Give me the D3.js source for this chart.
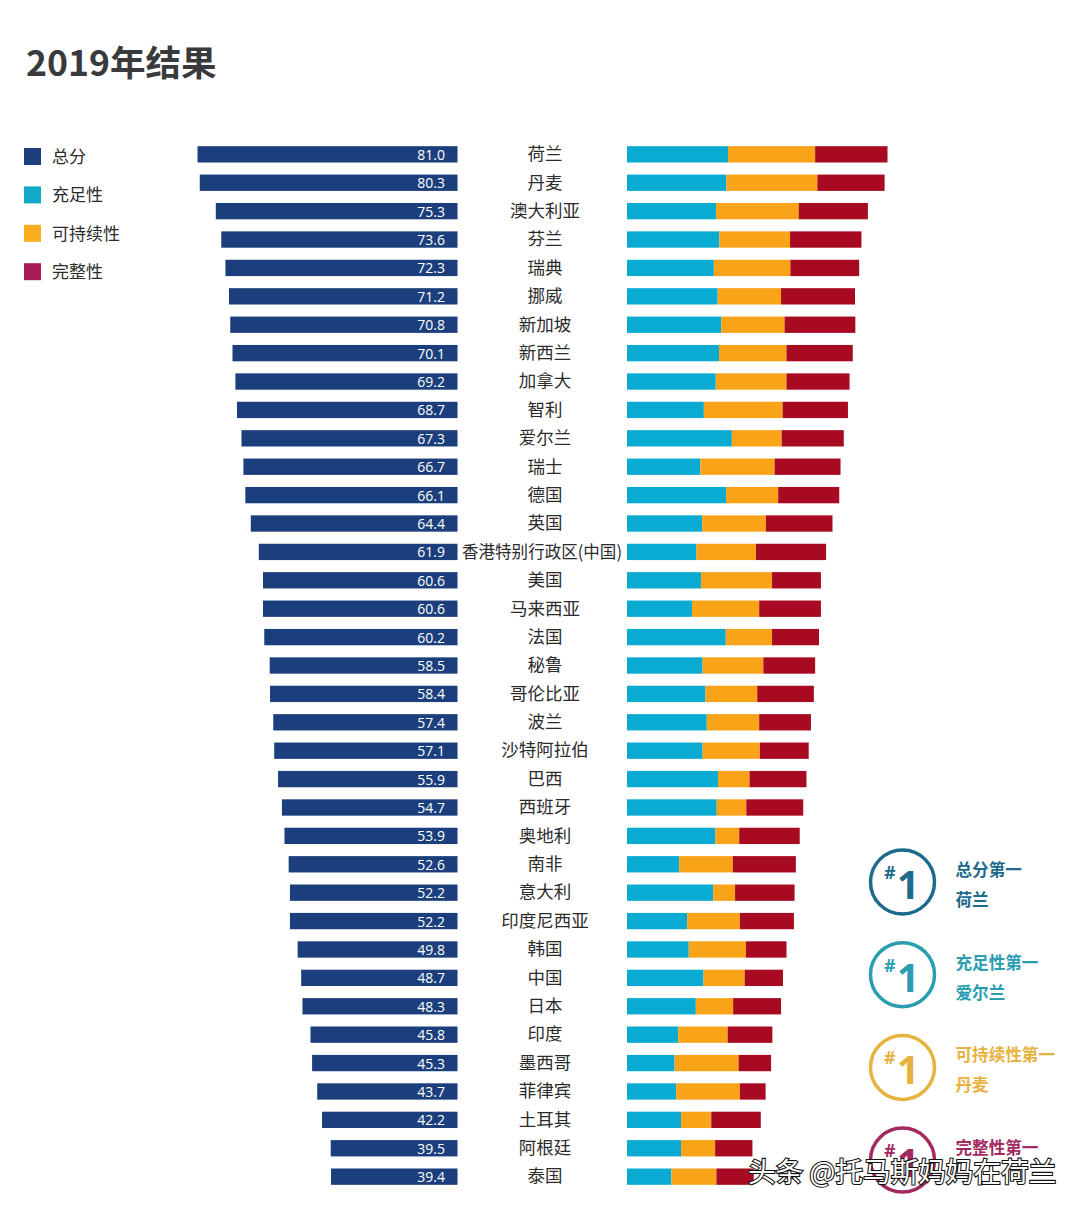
<!DOCTYPE html>
<meta charset="utf-8">
<style>
body { margin: 0; background: #fff; }
svg { display: block; }
text { font-family: "Noto Sans CJK SC", sans-serif; }
.num { font-family: "Open Sans", sans-serif; }
</style>
<body>
<svg id="chart" width="1080" height="1212"></svg>
<script src="https://cdnjs.cloudflare.com/ajax/libs/d3/7.8.5/d3.min.js"></script>
<script>

var countries = ["荷兰","丹麦","澳大利亚","芬兰","瑞典","挪威","新加坡","新西兰","加拿大","智利",
  "爱尔兰","瑞士","德国","英国","香港特别行政区(中国)","美国","马来西亚","法国","秘鲁","哥伦比亚",
  "波兰","沙特阿拉伯","巴西","西班牙","奥地利","南非","意大利","印度尼西亚","韩国","中国",
  "日本","印度","墨西哥","菲律宾","土耳其","阿根廷","泰国"];

var total = [81.0,80.3,75.3,73.6,72.3,71.2,70.8,70.1,69.2,68.7,
  67.3,66.7,66.1,64.4,61.9,60.6,60.6,60.2,58.5,58.4,
  57.4,57.1,55.9,54.7,53.9,52.6,52.2,52.2,49.8,48.7,
  48.3,45.8,45.3,43.7,42.2,39.5,39.4];

// weighted contribution of each sub index
var adequacy = [31.4,30.9,27.7,28.7,27.0,28.2,29.3,28.6,27.6,23.9,
  32.6,22.8,30.8,23.4,21.6,23.0,20.2,30.7,23.5,24.4,
  24.8,23.5,28.3,27.9,27.5,16.2,26.8,18.7,19.2,23.8,
  21.4,15.9,14.8,15.3,16.8,16.8,13.8];

var sustainability = [27.1,28.3,25.7,22.0,23.8,19.7,19.7,21.0,22.0,24.5,
  15.5,23.1,16.2,19.8,18.5,22.1,20.9,14.4,18.9,16.1,
  16.3,17.8,9.8,9.2,7.4,16.7,6.8,16.4,17.8,12.8,
  11.6,15.4,19.9,19.8,9.4,10.6,14.0];

var integrity = [22.5,20.9,21.5,22.2,21.4,23.0,22.0,20.6,19.6,20.3,
  19.3,20.5,19.0,20.7,21.8,15.2,19.2,14.6,16.1,17.6,
  16.1,15.2,17.7,17.7,18.8,19.6,18.5,16.8,12.6,11.9,
  14.9,13.9,10.1,8.0,15.4,11.6,11.6];

var legendLabels = ["总分","充足性","可持续性","完整性"];
var legendColors = ["#1b3f7c","#12a8c8","#f9ae1d","#a81b52"];
var stackColors = ["#0aabd3","#f9a318","#a80a22"];

var badgeLines = [["总分第一","荷兰"],["充足性第一","爱尔兰"],["可持续性第一","丹麦"],["完整性第一",""]];
var badgeColors = ["#1c6a8c","#2a9db0","#e8b23e","#a32a5f"];

var svg = d3.select("#chart");

svg.append("text")
  .attr("x", 26).attr("y", 75.5)
  .attr("font-size", 35.6).attr("font-weight", 700)
  .attr("fill", "#3a3a3c")
  .text("2019年结果");

var y = d3.scaleBand().domain(countries).range([140.5, 1190.5]).paddingInner(0.425).paddingOuter(0.2);
var xLeft = d3.scaleLinear().domain([0, 81]).range([457.5, 197.5]);
var xRight = d3.scaleLinear().domain([0, 81]).range([627, 887.5]);

// left: total score
var rows = countries.map(function(c, i) {
  return {name: c, total: total[i], parts: [adequacy[i], sustainability[i], integrity[i]]};
});

svg.append("g").selectAll("rect").data(rows).join("rect")
  .attr("x", function(d) { return xLeft(d.total); })
  .attr("y", function(d) { return y(d.name); })
  .attr("width", function(d) { return xLeft(0) - xLeft(d.total); })
  .attr("height", y.bandwidth())
  .attr("fill", legendColors[0]);

svg.append("g").selectAll("text").data(rows).join("text")
  .attr("class", "num")
  .attr("x", 445)
  .attr("y", function(d) { return y(d.name) + y.bandwidth() / 2 + 5.5; })
  .attr("text-anchor", "end")
  .attr("font-size", 14)
  .attr("fill", "#fff")
  .text(function(d) { return d.total.toFixed(1); });

// centre: names, the long Hong Kong label is squeezed to fit the gap
svg.append("g").selectAll("text").data(rows).join("text")
  .attr("x", function(d) { return d.name.length > 6 ? 542 : 545; })
  .attr("y", function(d) { return y(d.name) + y.bandwidth() / 2 + 5.8; })
  .attr("text-anchor", "middle")
  .attr("font-size", 17.5)
  .attr("fill", "#2b2b2b")
  .attr("textLength", function(d) { return d.name.length > 6 ? 160 : null; })
  .attr("lengthAdjust", "spacingAndGlyphs")
  .text(function(d) { return d.name; });

// right: stacked sub indices
var stackRows = svg.append("g").selectAll("g").data(rows).join("g");
stackRows.selectAll("rect")
  .data(function(d) {
    var sum = 0;
    return d.parts.map(function(v, k) {
      var seg = {name: d.name, x0: sum, x1: sum + v, k: k};
      sum += v;
      return seg;
    });
  })
  .join("rect")
  .attr("x", function(d) { return xRight(d.x0); })
  .attr("y", function(d) { return y(d.name); })
  .attr("width", function(d) { return xRight(d.x1) - xRight(d.x0); })
  .attr("height", y.bandwidth())
  .attr("fill", function(d) { return stackColors[d.k]; });

// legend
var legend = svg.append("g").selectAll("g").data(legendLabels).join("g")
  .attr("transform", function(d, i) { return "translate(24," + (148 + i * 38.4) + ")"; });
legend.append("rect")
  .attr("width", 17).attr("height", 17)
  .attr("fill", function(d, i) { return legendColors[i]; });
legend.append("text")
  .attr("x", 28).attr("y", 15)
  .attr("font-size", 17)
  .attr("fill", "#2b2b2b")
  .text(function(d) { return d; });

// number one badges
var badges = svg.append("g").selectAll("g").data(badgeLines).join("g")
  .attr("transform", function(d, i) { return "translate(902.5," + (882 + i * 92.7) + ")"; });
badges.append("circle")
  .attr("r", 32)
  .attr("fill", "#fff")
  .attr("stroke-width", 3.5)
  .attr("stroke", function(d, i) { return badgeColors[i]; });
badges.append("text")
  .attr("class", "num")
  .attr("x", -18.5).attr("y", -3)
  .attr("font-size", 18).attr("font-weight", 700)
  .attr("fill", function(d, i) { return badgeColors[i]; })
  .text("#");
badges.append("text")
  .attr("class", "num")
  .attr("x", -5.5).attr("y", 17)
  .attr("font-size", 39).attr("font-weight", 700)
  .attr("fill", function(d, i) { return badgeColors[i]; })
  .text("1");
badges.append("text")
  .attr("x", 53).attr("y", -6)
  .attr("font-size", 16.6).attr("font-weight", 700)
  .attr("fill", function(d, i) { return badgeColors[i]; })
  .text(function(d) { return d[0]; });
badges.append("text")
  .attr("x", 53).attr("y", 24)
  .attr("font-size", 16.6).attr("font-weight", 700)
  .attr("fill", function(d, i) { return badgeColors[i]; })
  .text(function(d) { return d[1]; });

// site watermark over the corner
svg.append("text")
  .attr("x", 748).attr("y", 1182)
  .attr("font-size", 27.6)
  .attr("fill", "#fff")
  .attr("stroke", "#111")
  .attr("stroke-width", 2.2)
  .attr("paint-order", "stroke")
  .text("头条 @托马斯妈妈在荷兰");

</script>
</body>
